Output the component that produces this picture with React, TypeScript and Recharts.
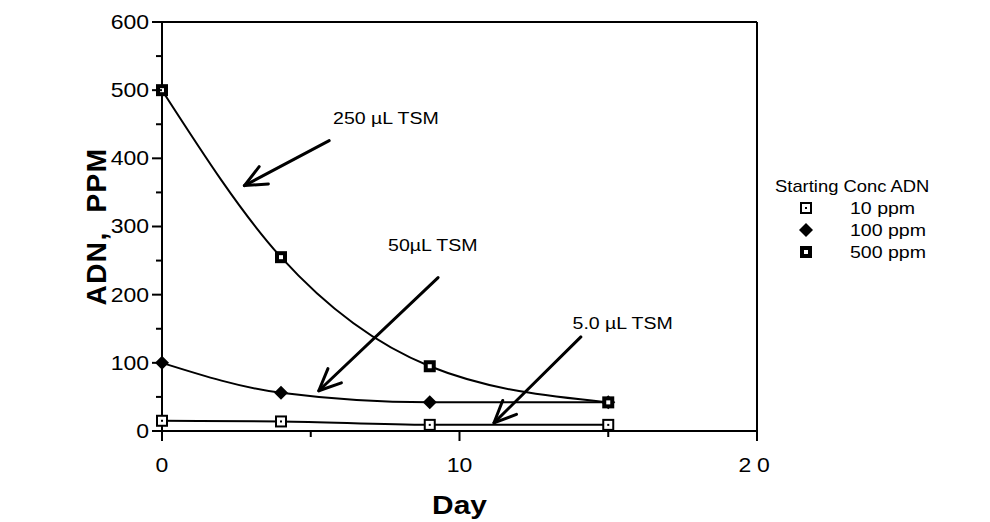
import React from 'react';
import { LineChart, Line, XAxis, YAxis, ReferenceLine, ReferenceDot, Legend } from 'recharts';

// ADN remaining (ppm) by day, for each starting concentration
const days = [0, 4, 9, 15];
const adn10 = [15, 14, 9, 9];
const adn100 = [100, 56, 42, 42];
const adn500 = [500, 255, 95, 42];

const xTicks = [0, 5, 10, 15, 20];
const yTicks = [0, 50, 100, 150, 200, 250, 300, 350, 400, 450, 500, 550, 600];

const seriesNames = ['10 ppm', '100 ppm', '500 ppm'];
const legendTitle = 'Starting Conc ADN';

// arrow callouts, in day / ppm units
const callouts = [
  { text: '250 µL TSM', label: [5.75, 459], from: [5.62, 426], to: [2.77, 360] },
  { text: '50µL TSM', label: [7.6, 273], from: [9.28, 225], to: [5.27, 59] },
  { text: '5.0 µL TSM', label: [13.8, 159], from: [14.08, 138], to: [11.16, 12] },
];

const rows = days.map((day, i) => ({ day, c10: adn10[i], c100: adn100[i], c500: adn500[i] }));

const FONT = '"Liberation Sans", Arial, Helvetica, sans-serif';
const SX = 1.15;

type WideProps = {
  x: number;
  y: number;
  size: number;
  anchor?: 'start' | 'middle' | 'end';
  bold?: boolean;
  spacing?: number;
  children: React.ReactNode;
};

const WideText = ({ x, y, size, anchor = 'start', bold = false, spacing = 0, children }: WideProps) => (
  <text
    transform={`translate(${x},${y}) scale(${SX},1)`}
    textAnchor={anchor}
    dominantBaseline="central"
    fontSize={size}
    fontWeight={bold ? 'bold' : 'normal'}
    fontFamily={FONT}
    letterSpacing={spacing}
    fill="#000"
    style={{ whiteSpace: 'pre' }}
  >
    {children}
  </text>
);

const Marker = ({ cx, cy, kind }: { cx: number; cy: number; kind: string }) => {
  if (kind === 'diamond') {
    return <polygon points={`${cx},${cy - 7} ${cx + 7},${cy} ${cx},${cy + 7} ${cx - 7},${cy}`} fill="#000" />;
  }
  if (kind === 'open') {
    return (
      <g>
        <rect x={cx - 5} y={cy - 5} width={10} height={10} fill="#fff" stroke="#000" strokeWidth={2} />
        <rect x={cx - 1} y={cy - 1} width={2} height={2} fill="#000" />
      </g>
    );
  }
  return (
    <g>
      <rect x={cx - 6} y={cy - 6} width={12} height={12} fill="#000" />
      <rect x={cx - 2} y={cy - 2} width={4} height={4} fill="#fff" />
    </g>
  );
};

const markerKinds = ['open', 'diamond', 'solid'];

const XTick = (props: any) => {
  const { x, y, payload } = props;
  const major = payload.value % 10 === 0;
  return (
    <g>
      <line x1={x} y1={y} x2={x} y2={y + (major ? 10 : 6)} stroke="#000" strokeWidth={2} />
      {major && (
        <WideText x={x} y={y + 34} size={20} anchor="middle" spacing={payload.value === 20 ? 5 : 0}>
          {String(payload.value)}
        </WideText>
      )}
    </g>
  );
};

const YTick = (props: any) => {
  const { x, y, payload } = props;
  const major = payload.value % 100 === 0;
  return (
    <g>
      <line x1={x} y1={y} x2={x - (major ? 10 : 6)} y2={y} stroke="#000" strokeWidth={2} />
      {major && (
        <WideText x={x - 13} y={y} size={20} anchor="end">
          {String(payload.value)}
        </WideText>
      )}
    </g>
  );
};

const Arrow = (props: any) => {
  const { x1, y1, x2, y2 } = props;
  const ang = Math.atan2(y2 - y1, x2 - x1);
  const len = 24;
  const spread = 0.42;
  const hx1 = x2 - len * Math.cos(ang - spread);
  const hy1 = y2 - len * Math.sin(ang - spread);
  const hx2 = x2 - len * Math.cos(ang + spread);
  const hy2 = y2 - len * Math.sin(ang + spread);
  return (
    <g stroke="#000" strokeWidth={3} fill="none" strokeLinecap="round" strokeLinejoin="round">
      <line x1={x1} y1={y1} x2={x2} y2={y2} />
      <polyline points={`${hx1},${hy1} ${x2},${y2} ${hx2},${hy2}`} />
    </g>
  );
};

const renderLegend = () => (
  <svg width={220} height={100}>
    <WideText x={5} y={16} size={16}>
      {legendTitle}
    </WideText>
    {seriesNames.map((name, i) => (
      <g key={name}>
        <Marker cx={36} cy={38 + i * 22} kind={markerKinds[i]} />
        <WideText x={80} y={38 + i * 22} size={17}>
          {name}
        </WideText>
      </g>
    ))}
  </svg>
);

const seriesKeys = ['c10', 'c100', 'c500'];

export default function App() {
  return (
    <div style={{ position: 'absolute', left: 0, top: 0, background: '#fff' }}>
      {/* the legend reserves its own 220px on the right */}
      <LineChart width={990} height={522} data={rows} margin={{ top: 22, right: 13, bottom: 0, left: 0 }}>
        <XAxis
          type="number"
          dataKey="day"
          domain={[0, 20]}
          ticks={xTicks}
          interval={0}
          tickSize={0}
          tickMargin={0}
          height={91}
          axisLine={{ stroke: '#000', strokeWidth: 2 }}
          tickLine={false}
          tick={<XTick />}
          label={{
            content: (p: any) => (
              <WideText x={p.viewBox.x + p.viewBox.width / 2} y={p.viewBox.y + 74} size={26} bold anchor="middle">
                Day
              </WideText>
            ),
          }}
        />
        <YAxis
          type="number"
          domain={[0, 600]}
          ticks={yTicks}
          interval={0}
          tickSize={0}
          tickMargin={0}
          width={162}
          axisLine={{ stroke: '#000', strokeWidth: 2 }}
          tickLine={false}
          tick={<YTick />}
          label={{
            content: (p: any) => (
              <text
                transform={`translate(${p.viewBox.x + 96},${p.viewBox.y + p.viewBox.height / 2}) rotate(-90)`}
                textAnchor="middle"
                dominantBaseline="central"
                fontSize={28}
                fontWeight="bold"
                fontFamily={FONT}
                letterSpacing={1.5}
                style={{ whiteSpace: 'pre' }}
              >
                {'ADN,  PPM'}
              </text>
            ),
          }}
        />
        <ReferenceLine y={600} stroke="#000" strokeWidth={2} />
        <ReferenceLine x={20} stroke="#000" strokeWidth={2} />
        {seriesKeys.map((k, i) => (
          <Line
            key={k}
            dataKey={k}
            name={seriesNames[i]}
            type="monotone"
            stroke="#000"
            strokeWidth={2}
            isAnimationActive={false}
            dot={(p: any) => <Marker key={`${k}-${p.index}`} cx={p.cx} cy={p.cy} kind={markerKinds[i]} />}
            activeDot={false}
          />
        ))}
        {callouts.map((c) => (
          <ReferenceLine
            key={c.text}
            segment={[
              { x: c.from[0], y: c.from[1] },
              { x: c.to[0], y: c.to[1] },
            ]}
            shape={(p: any) => <Arrow {...p} />}
          />
        ))}
        {callouts.map((c) => (
          <ReferenceDot
            key={`t-${c.text}`}
            x={c.label[0]}
            y={c.label[1]}
            shape={(p: any) => (
              <WideText x={p.cx} y={p.cy} size={17}>
                {c.text}
              </WideText>
            )}
          />
        ))}
        <Legend
          layout="vertical"
          verticalAlign="top"
          align="right"
          wrapperStyle={{ left: 770, top: 170, width: 220 }}
          content={renderLegend}
        />
      </LineChart>
    </div>
  );
}
